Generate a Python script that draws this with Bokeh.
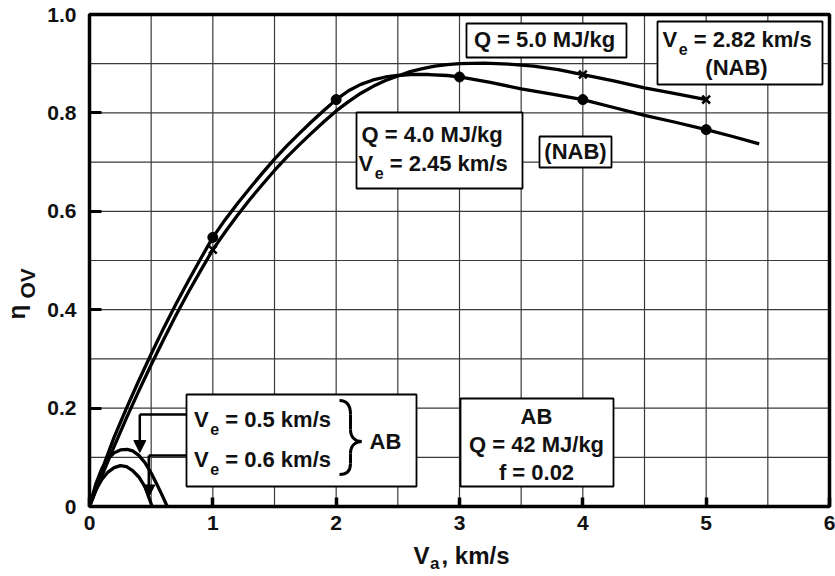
import numpy as np
from bokeh.plotting import figure
from bokeh.models import (FixedTicker, Label, BoxAnnotation, Arrow, NormalHead,
                          Range1d, CustomJSTickFormatter)
from bokeh.embed import file_html
from bokeh.resources import INLINE

# ---------------- data ----------------
# NAB, Q = 4.0 MJ/kg, Ve = 2.45 km/s
nab_q40_va = [0, 0.1, 0.2, 0.3, 0.4, 0.5, 0.6, 0.7, 0.8, 0.9,
              1.0, 1.1, 1.2, 1.3, 1.4, 1.5, 1.6, 1.7, 1.8, 1.9,
              2.0, 2.1, 2.2, 2.3, 2.4, 2.5, 2.6, 2.75, 2.9, 3.0,
              3.25, 3.5, 3.75, 4.0, 4.25, 4.5, 4.75, 5.0, 5.2, 5.43]
nab_q40_eta = [0, 0.074, 0.141, 0.200, 0.256, 0.310, 0.362, 0.411, 0.458, 0.503,
               0.547, 0.583, 0.616, 0.647, 0.677, 0.706, 0.733, 0.758, 0.782, 0.805,
               0.827, 0.845, 0.858, 0.867, 0.873, 0.876, 0.878, 0.878, 0.876, 0.873,
               0.862, 0.849, 0.838, 0.827, 0.811, 0.795, 0.781, 0.766, 0.753, 0.737]
# NAB, Q = 5.0 MJ/kg, Ve = 2.82 km/s
nab_q50_va = [0, 0.1, 0.2, 0.3, 0.4, 0.5, 0.6, 0.7, 0.8, 0.9,
              1.0, 1.1, 1.2, 1.3, 1.4, 1.5, 1.6, 1.7, 1.8, 1.9,
              2.0, 2.1, 2.2, 2.3, 2.4, 2.5, 2.6, 2.7, 2.8, 2.9,
              3.0, 3.2, 3.4, 3.6, 3.8, 4.0, 4.25, 4.5, 4.75, 5.0]
nab_q50_eta = [0, 0.062, 0.122, 0.180, 0.235, 0.288, 0.339, 0.388, 0.435, 0.479,
               0.522, 0.558, 0.592, 0.624, 0.654, 0.683, 0.710, 0.735, 0.759, 0.782,
               0.804, 0.823, 0.840, 0.854, 0.866, 0.875, 0.884, 0.890, 0.895, 0.898,
               0.900, 0.901, 0.899, 0.895, 0.888, 0.878, 0.865, 0.851, 0.839, 0.827]
# markers on the NAB curves
q40_mark_va = [1, 2, 3, 4, 5]
q40_mark_eta = [0.547, 0.827, 0.873, 0.827, 0.766]
q50_mark_va = [1, 4, 5]
q50_mark_eta = [0.522, 0.878, 0.827]
# AB curves
ab_outer_va = [0, 0.05, 0.1, 0.15, 0.2, 0.25, 0.305, 0.35, 0.4, 0.45, 0.5, 0.55, 0.6, 0.63]
ab_outer_eta = [0, 0.045, 0.077, 0.097, 0.109, 0.115, 0.116, 0.113, 0.104, 0.089,
                0.068, 0.043, 0.017, 0]
ab_inner_va = [0, 0.05, 0.1, 0.15, 0.2, 0.25, 0.3, 0.35, 0.4, 0.45, 0.508]
ab_inner_eta = [0, 0.033, 0.055, 0.070, 0.079, 0.083, 0.081, 0.073, 0.060, 0.040, 0]

x_ticks = [0, 1, 2, 3, 4, 5, 6]
y_ticks = [0, 0.2, 0.4, 0.6, 0.8, 1.0]
x_grid = [0.5, 1, 1.5, 2, 2.5, 3, 3.5, 4, 4.5, 5, 5.5]
y_grid = [0.1, 0.2, 0.3, 0.4, 0.5, 0.6, 0.7, 0.8, 0.9]

FONT = "Liberation Sans"

# ---------------- geometry of the canvas ----------------
W, H = 835, 576
FL, FR, FT, FB = 89, 829, 14, 506          # pixel edges of the plotting box
XS = (FR - FL) / 6.0
YS = (FB - FT) / 1.0


def dx(px):
    return (px - FL) / XS


def dy(py):
    return (FB - py) / YS


p = figure(width=W, height=H,
           x_range=Range1d(dx(0), dx(W)), y_range=Range1d(dy(H), dy(0)),
           output_backend="svg", toolbar_location=None,
           min_border_left=0, min_border_right=0, min_border_top=0,
           min_border_bottom=0)
p.title.visible = False
p.outline_line_color = None
p.background_fill_color = "white"
p.border_fill_color = "white"
p.xgrid.visible = False
p.ygrid.visible = False

# axes pinned to the plotting box
p.xaxis.ticker = FixedTicker(ticks=x_ticks)
p.yaxis.ticker = FixedTicker(ticks=y_ticks)
p.yaxis.formatter = CustomJSTickFormatter(code="return tick == 0 ? '0' : tick.toFixed(1);")
p.xaxis.fixed_location = 0
p.yaxis.fixed_location = 0
p.xaxis.bounds = (0, 6)
p.yaxis.bounds = (0, 1)
for ax in (p.xaxis[0], p.yaxis[0]):
    ax.axis_line_color = None
    ax.major_tick_out = 0
    ax.minor_tick_line_color = None
    ax.major_tick_line_color = "black"
    ax.major_label_text_font = FONT
    ax.major_label_text_font_style = "bold"
    ax.major_label_text_font_size = "21px"
    ax.major_label_text_color = "#111111"
p.yaxis.major_tick_in = 12
p.yaxis.major_tick_line_width = 3
p.yaxis.major_label_standoff = 13
p.xaxis.major_tick_in = 9
p.xaxis.major_tick_line_width = 3.5
p.xaxis.major_label_standoff = 9

# grid lines inside the box
p.segment(x0=x_grid, y0=0, x1=x_grid, y1=1, line_color="#3a3a3a", line_width=1.2)
p.segment(x0=0, y0=y_grid, x1=6, y1=y_grid, line_color="#3a3a3a", line_width=1.2)

# ---------------- curves ----------------
for xs, ys in ((nab_q40_va, nab_q40_eta), (nab_q50_va, nab_q50_eta),
               (ab_outer_va, ab_outer_eta), (ab_inner_va, ab_inner_eta)):
    p.line(xs, ys, line_width=3.3, line_color="black", line_join="round")
p.scatter(q40_mark_va, q40_mark_eta, marker="circle", size=10,
          fill_color="black", line_color="black")
p.scatter(q50_mark_va, q50_mark_eta, marker="x", size=11, line_width=2.5,
          line_color="black")

# plotting box outline
p.add_layout(BoxAnnotation(left=0, right=6, bottom=0, top=1, fill_color=None,
                           line_color="black", line_alpha=1.0, line_width=3.5,
                           level="guide"))


# ---------------- annotation helpers ----------------
def box(l, t, r, b):
    p.add_layout(BoxAnnotation(left=dx(l), right=dx(r), top=dy(t), bottom=dy(b),
                               fill_color="white", fill_alpha=1.0,
                               line_color="black", line_alpha=1.0, line_width=1.8))


BASE_SHIFT = 0.34   # renderer puts the alphabetic baseline about this many em low


def label(px, py, text, size=22, align="left", angle=0.0, style="bold"):
    k = BASE_SHIFT * size
    px = px - k * np.sin(angle)
    py = py - k * np.cos(angle)
    p.add_layout(Label(x=dx(px), y=dy(py), text=text, text_font=FONT,
                       text_font_style=style, text_font_size=f"{size}px",
                       text_color="#111111", text_align=align,
                       text_baseline="alphabetic", angle=angle))


def sub_label(px, py, main, sub, rest, size=22, ssize=16):
    label(px, py, main, size=size)
    wm = 0.667 * size + 1.5
    label(px + wm, py + 7.5, sub, size=ssize)
    ws = 0.556 * ssize + 0.278 * size
    label(px + wm + ws, py, rest, size=size)


# boxes
box(356, 112, 522, 188)
box(539, 136, 611, 167)
box(466, 23, 626, 57)
box(657, 21, 822, 84)
box(186, 394, 416, 486)
box(460, 398, 613, 486)

# box texts
label(361, 141.5, "Q = 4.0 MJ/kg")
sub_label(358, 170, "V", "e", "= 2.45 km/s")
label(575, 158.5, "(NAB)", align="center")
label(544, 46.7, "Q = 5.0 MJ/kg", align="center")
sub_label(662, 46.7, "V", "e", "= 2.82 km/s")
label(736, 74.5, "(NAB)", align="center")
sub_label(193.5, 426.7, "V", "e", "= 0.5 km/s")
sub_label(193.5, 466, "V", "e", "= 0.6 km/s")
label(369, 448.3, "AB")
label(536, 423.3, "AB", align="center")
label(536, 451.7, "Q = 42 MJ/kg", align="center")
label(536, 479, "f = 0.02", align="center")

# brace
bz = dict(
    x0=[dx(339), dx(350), dx(350), dx(361), dx(350), dx(350)],
    y0=[dy(400), dy(414), dy(429), dy(441), dy(453), dy(463)],
    x1=[dx(350), dx(350), dx(361), dx(350), dx(350), dx(339)],
    y1=[dy(414), dy(429), dy(441), dy(453), dy(463), dy(474)],
    cx0=[dx(347), dx(350), dx(350), dx(355), dx(350), dx(350)],
    cy0=[dy(400), dy(419), dy(437), dy(441), dy(458), dy(470)],
    cx1=[dx(350), dx(350), dx(355), dx(350), dx(350), dx(347)],
    cy1=[dy(405), dy(424), dy(441), dy(445), dy(459), dy(474)],
)
br = p.bezier(line_color="black", line_width=3, **bz)
br.level = "overlay"

# arrows from the AB box
p.line([dx(186), dx(139.3)], [dy(414), dy(414)], line_width=2.5, line_color="black")
p.add_layout(Arrow(x_start=dx(139.3), y_start=dy(414), x_end=dx(139.3), y_end=dy(452),
                   line_width=2.5, line_color="black",
                   end=NormalHead(size=12, fill_color="black", line_color="black",
                                  line_width=1)))
p.line([dx(186), dx(148.3)], [dy(455), dy(455)], line_width=2.5, line_color="black")
p.add_layout(Arrow(x_start=dx(148.3), y_start=dy(455), x_end=dx(148.3), y_end=dy(496.5),
                   line_width=2.5, line_color="black",
                   end=NormalHead(size=12, fill_color="black", line_color="black",
                                  line_width=1)))

# axis titles
label(413, 563, "V", size=24)
label(429.5, 569, "a", size=17)
label(441, 563, ", km/s", size=24)
label(24, 319, "\u03b7", size=24, angle=np.pi / 2)
label(34, 298, "OV", size=21, angle=np.pi / 2)

open("out.html", "w").write(file_html(p, INLINE))
